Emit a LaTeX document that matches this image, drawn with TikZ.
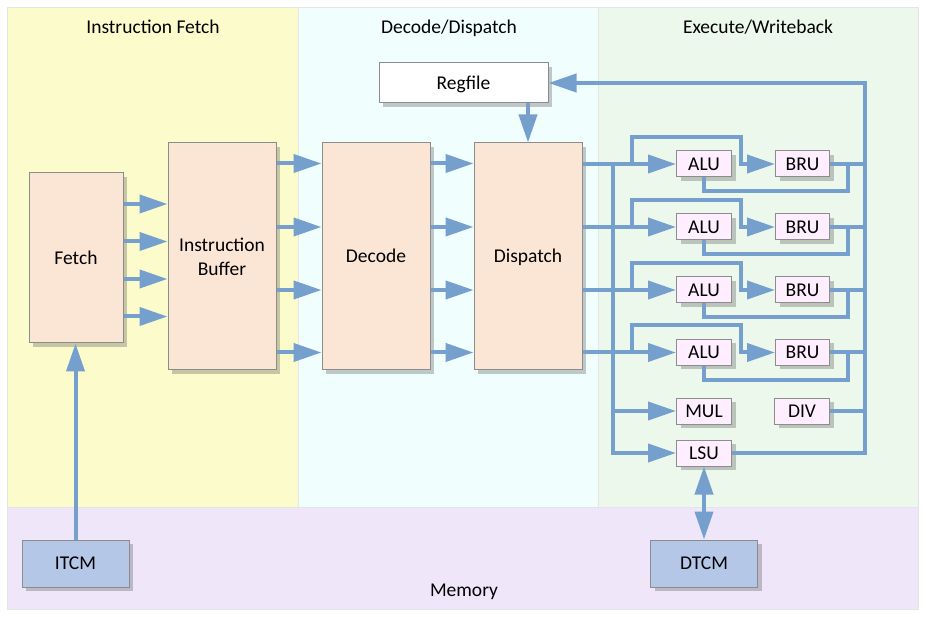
\documentclass[tikz,border=0pt]{standalone}
\usepackage{fontspec}
\setmainfont{Carlito}
\usetikzlibrary{arrows.meta,shadows}
\definecolor{ifbg}{RGB}{251,251,204}
\definecolor{ddbg}{RGB}{240,254,254}
\definecolor{ewbg}{RGB}{236,248,236}
\definecolor{membg}{RGB}{239,230,250}
\definecolor{peach}{RGB}{251,230,214}
\definecolor{pinkbox}{RGB}{255,238,255}
\definecolor{tcmblue}{RGB}{180,199,231}
\definecolor{wireblue}{RGB}{117,160,206}
\definecolor{edgegray}{RGB}{140,140,140}
\begin{document}
\begin{tikzpicture}[x=1pt,y=-1pt,
  font=\fontsize{19.5}{24}\selectfont,
  region/.style={draw=black!10, line width=0.6pt},
  boxbase/.style={draw=edgegray, line width=1pt, inner sep=0pt,
    drop shadow={shadow xshift=4pt, shadow yshift=-4pt, opacity=0.3, fill=black!70}},
  boxlbl/.style={boxbase, text height=12.4pt, text depth=0pt},
  stage/.style={boxlbl, fill=peach, minimum width=108pt, minimum height=227pt},
  unitbox/.style={boxlbl, fill=pinkbox, minimum width=55pt, minimum height=26pt},
  tcmbox/.style={boxlbl, fill=tcmblue, minimum width=107pt, minimum height=47pt},
  wireline/.style={draw=wireblue, line width=4pt},
  arr/.style={wireline, -{Triangle[length=28pt,width=18pt]}},
  dbl/.style={wireline, {Triangle[length=28pt,width=18pt]}-{Triangle[length=28pt,width=18pt]}},
]
\useasboundingbox (0,0) rectangle (926,617);
\fill[white] (0,0) rectangle (926,617);
% regions
\path[region, fill=ifbg] (7,7) rectangle (298,507);
\path[region, fill=ddbg] (298,7) rectangle (598,507);
\path[region, fill=ewbg] (598,7) rectangle (918,507);
\path[region, fill=membg] (7,507) rectangle (918,609);
\node[anchor=base] (tif) at (153,34) {Instruction Fetch};
\node[anchor=base] (tdd) at (449,34) {Decode/Dispatch};
\node[anchor=base] (tew) at (758,34) {Execute/Writeback};
\node[anchor=base] (tmem) at (464,596) {Memory};
% boxes
\node[stage, minimum width=94pt, minimum height=170pt] (fetch) at (76,258) {Fetch};
\node[boxbase, fill=peach, minimum width=108pt, minimum height=227pt, align=center] (ib) at (222,256.5) {Instruction\\Buffer};
\node[stage] (decode) at (376,256.5) {Decode};
\node[stage] (dispatch) at (528,256.5) {Dispatch};
\node[boxlbl, fill=white, minimum width=169pt, minimum height=40pt] (regfile) at (463.5,83) {Regfile};
\node[tcmbox] (itcm) at (75.5,563.5) {ITCM};
\node[tcmbox] (dtcm) at (704,563.5) {DTCM};
\node[unitbox] (mul) at (704,411) {MUL};
\node[unitbox] (div) at (802,411) {DIV};
\node[unitbox] (lsu) at (704,453) {LSU};
% fetch -> buffer
\foreach \c in {204,241.5,279,316.5}
  \draw[arr] (fetch.east |- 0,\c) -- (ib.west |- 0,\c);
% buffer -> decode -> dispatch
\foreach \c in {163.5,227,290,352.5}{
  \draw[arr] (ib.east |- 0,\c) -- (decode.west |- 0,\c);
  \draw[arr] (decode.east |- 0,\c) -- (dispatch.west |- 0,\c);
}
% execution rows
\foreach \i/\c in {1/164,2/227,3/290,4/352.5}{
  \node[unitbox] (alu\i) at (704,\c) {ALU};
  \node[unitbox, minimum width=54pt] (bru\i) at (802.5,\c) {BRU};
  \draw[arr] (dispatch.east |- alu\i) -- (alu\i.west);
  \draw[arr] (632,\c) -- (632,\c-27) -- (741,\c-27) -- (741,\c) -- (bru\i.west);
  \draw[wireline] (bru\i.east) -- (865,\c);
  \draw[wireline] (alu\i.south) |- (848,\c+27) -- (848,\c);
}
% dispatch bus to MUL and LSU
\coordinate (bus) at (613,164);
\draw[arr] (bus) |- (lsu.west);
\draw[arr] (bus |- mul) -- (mul.west);
% writeback bus
\draw[wireline] (div.east) -- (865,411);
\draw[arr] (lsu.east) -| (865,83) -- (regfile.east);
% regfile -> dispatch
\draw[arr] (dispatch.north |- regfile.south) -- (dispatch.north);
% memory links
\draw[arr] (itcm.north) -- (itcm.north |- fetch.south);
\draw[dbl] (lsu.south) -- (dtcm.north);
\end{tikzpicture}
\end{document}
